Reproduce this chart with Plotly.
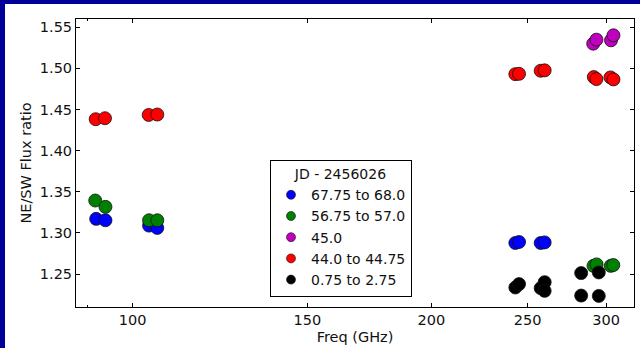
import numpy as np
import plotly.graph_objects as go

# NE/SW flux ratio against observing frequency, grouped by epoch (JD - 2456026)
labels = ["67.75 to 68.0", "56.75 to 57.0", "45.0", "44.0 to 44.75", "0.75 to 2.75"]
colors = ["#0000FF", "#008000", "#BF00BF", "#FF0000", "#000000"]

freq_67 = [91.9, 93.9, 103.9, 105.9, 243.0, 245.1, 257.7, 260.1]
ratio_67 = [1.3171, 1.3154, 1.3089, 1.3061, 1.2878, 1.2890, 1.2878, 1.2885]

freq_57 = [91.7, 93.9, 103.9, 105.9, 291.3, 293.4, 303.2, 305.0]
ratio_57 = [1.3394, 1.3317, 1.3154, 1.3154, 1.2600, 1.2618, 1.2600, 1.2610]

freq_45 = [291.1, 293.3, 303.4, 305.1]
ratio_45 = [1.5300, 1.5349, 1.5341, 1.5402]

freq_44 = [91.8, 93.8, 103.8, 105.9, 243.0, 245.1, 257.7, 260.1, 291.5, 293.3, 303.0, 305.1]
ratio_44 = [1.4382, 1.4394, 1.4434, 1.4439, 1.4930, 1.4934, 1.4971, 1.4976,
            1.4894, 1.4870, 1.4890, 1.4866]

freq_02 = [243.0, 245.1, 257.7, 260.1, 260.1, 283.1, 294.9, 283.1, 294.9]
ratio_02 = [1.2337, 1.2378, 1.2329, 1.2402, 1.2296, 1.2512, 1.2520, 1.2239, 1.2235]

freqs = [freq_67, freq_57, freq_45, freq_44, freq_02]
ratios = [ratio_67, ratio_57, ratio_45, ratio_44, ratio_02]

x_ticks = [100, 150, 200, 250, 300]
x_minor = [90]
y_ticks = [1.25, 1.30, 1.35, 1.40, 1.45, 1.50, 1.55]
x_range = [87.7, 320.0]
y_range = [1.21, 1.56]

FONT = "DejaVu Sans"
TXT = "#111111"
W, H = 640, 348
ML, MR, MT, MB = 76, 6, 19, 41
PW, PH = W - ML - MR, H - MT - MB

fig = go.Figure()
for f, r, name, c in zip(freqs, ratios, labels, colors):
    fig.add_trace(go.Scatter(
        x=f, y=r, mode="markers", name=name, showlegend=False,
        marker=dict(size=13, color=c, line=dict(color=TXT, width=0.8)),
    ))
# Legend entries use a smaller marker than the data points
for name, c in zip(labels, colors):
    fig.add_trace(go.Scatter(
        x=[None], y=[None], mode="markers", name=name,
        marker=dict(size=9, color=c, line=dict(color=TXT, width=0.6)),
    ))

axis_common = dict(
    showline=True, linecolor="black", linewidth=1, mirror="allticks",
    ticks="inside", ticklen=4, tickwidth=1, tickcolor="black",
    showgrid=False, zeroline=False,
    tickfont=dict(family=FONT, size=14.5, color=TXT),
)

fig.update_xaxes(
    type="log", range=[np.log10(x_range[0]), np.log10(x_range[1])],
    tickmode="array", tickvals=x_ticks, ticktext=[str(v) for v in x_ticks],
    minor=dict(tickmode="array", tickvals=x_minor, ticks="inside", ticklen=2,
               tickcolor="black", showgrid=False),
    title=dict(text="Freq (GHz)", font=dict(family=FONT, size=14.5, color=TXT),
               standoff=4),
    **axis_common,
)
fig.update_yaxes(
    range=y_range, tickmode="array", tickvals=y_ticks, tickformat=".2f",
    title=dict(text="NE/SW Flux ratio", font=dict(family=FONT, size=14.5, color=TXT),
               standoff=4),
    **axis_common,
)

# Dark blue frame strips along the top and left edges of the page
band = "#000099"
fig.add_shape(type="rect", xref="paper", yref="paper",
              x0=-ML / PW, x1=(W - ML) / PW,
              y0=1 + (MT - 4) / PH, y1=1 + MT / PH,
              fillcolor=band, line=dict(width=0), layer="above")
fig.add_shape(type="rect", xref="paper", yref="paper",
              x0=-ML / PW, x1=(5 - ML) / PW,
              y0=-MB / PH, y1=1 + MT / PH,
              fillcolor=band, line=dict(width=0), layer="above")

fig.update_layout(
    width=W, height=H,
    margin=dict(l=ML, r=MR, t=MT, b=MB),
    paper_bgcolor="white", plot_bgcolor="white",
    font=dict(family=FONT, size=14, color=TXT),
    showlegend=True,
    legend=dict(
        x=(270 - ML) / PW, y=(H - MB - 160) / PH,
        xanchor="left", yanchor="top",
        bgcolor="white", bordercolor="black", borderwidth=1,
        font=dict(family=FONT, size=14, color=TXT),
        title=dict(text="JD - 2456026", side="top center",
                   font=dict(family=FONT, size=14, color=TXT)),
        itemsizing="trace",
        tracegroupgap=0,
    ),
)

fig.write_html("out.html")
